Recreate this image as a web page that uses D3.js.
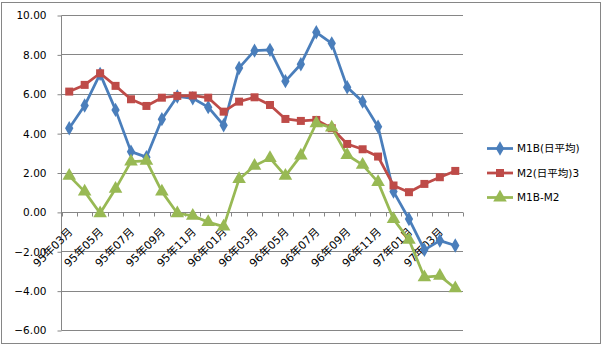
<!DOCTYPE html>
<html>
<head>
<meta charset="utf-8">
<script src="https://cdn.jsdelivr.net/npm/d3@7"></script>
<style>
  html, body { margin: 0; padding: 0; background: #fff; }
  svg { display: block; }
  text { font-family: "DejaVu Sans", "Noto Sans CJK JP", sans-serif; fill: #000; }
</style>
</head>
<body>
<svg id="chart" width="605" height="347"></svg>
<script>
// Monthly categories, 95年03月 .. 97年04月
const months = [
  "95年03月","95年04月","95年05月","95年06月","95年07月","95年08月","95年09月","95年10月",
  "95年11月","95年12月","96年01月","96年02月","96年03月","96年04月","96年05月","96年06月",
  "96年07月","96年08月","96年09月","96年10月","96年11月","96年12月","97年01月","97年02月",
  "97年03月","97年04月"
];
const m1b = [4.25, 5.40, 7.01, 5.18, 3.06, 2.78, 4.71, 5.86, 5.77, 5.32, 4.40, 7.31, 8.19,
             8.23, 6.64, 7.50, 9.12, 8.56, 6.33, 5.60, 4.32, 1.03, -0.36, -1.93, -1.46, -1.71];
const m2  = [6.11, 6.45, 7.04, 6.40, 5.72, 5.38, 5.80, 5.89, 5.91, 5.80, 5.09, 5.60, 5.82,
             5.43, 4.72, 4.62, 4.67, 4.25, 3.45, 3.18, 2.81, 1.34, 1.00, 1.42, 1.76, 2.08];
const diff = [1.83, 1.03, -0.07, 1.17, 2.55, 2.59, 1.03, -0.07, -0.20, -0.52, -0.75, 1.66, 2.34,
              2.73, 1.83, 2.86, 4.50, 4.28, 2.89, 2.39, 1.51, -0.37, -1.42, -3.32, -3.25, -3.88];
const yTicks = [-6, -4, -2, 0, 2, 4, 6, 8, 10];
const seriesNames = ["M1B(日平均)", "M2(日平均)3", "M1B-M2"];
const seriesColors = ["#4A7EBB", "#BE4B48", "#98B954"];
const seriesShapes = [d3.symbolDiamond, d3.symbolSquare, d3.symbolTriangle];
const seriesSizes = [60, 64, 80];

const svg = d3.select("#chart");

// chart area border
svg.append("rect")
  .attr("x", 1.5).attr("y", 2.5).attr("width", 599).attr("height", 341)
  .attr("fill", "#fff").attr("stroke", "#868686").attr("stroke-width", 1);

const plot = { left: 61.5, right: 463, top: 15, bottom: 330 };

const x = d3.scaleBand().domain(months).range([plot.left, plot.right]).padding(0);
const y = d3.scaleLinear().domain([-6, 10]).range([plot.bottom, plot.top]);
const cx = d => x(d) + x.bandwidth() / 2;

// horizontal gridlines
svg.append("g").selectAll("line").data(yTicks).join("line")
  .attr("x1", plot.left).attr("x2", plot.right)
  .attr("y1", d => Math.round(y(d)) + 0.5).attr("y2", d => Math.round(y(d)) + 0.5)
  .attr("stroke", "#868686").attr("stroke-width", 1);

// y axis
const yAxis = d3.axisLeft(y).tickValues(yTicks).tickFormat(d3.format(".2f")).tickSize(4).tickPadding(11);
const gy = svg.append("g").attr("transform", `translate(${plot.left},0.5)`).call(yAxis);
gy.select(".domain").attr("stroke", "#868686").attr("d", `M0,${plot.top}V${plot.bottom}`);
gy.selectAll(".tick line").attr("stroke", "#868686");
gy.selectAll(".tick text").attr("font-size", 10.5).attr("font-family", "DejaVu Sans, sans-serif").attr("fill", "#000");

// x axis on the zero line, ticks at category boundaries
const y0 = Math.round(y(0)) + 0.5;
const gx = svg.append("g");
gx.append("line").attr("x1", plot.left).attr("x2", plot.right)
  .attr("y1", y0).attr("y2", y0).attr("stroke", "#868686");
const bounds = months.map(m => x(m)).concat([plot.right]);
gx.selectAll("line.tk").data(bounds).join("line").attr("class", "tk")
  .attr("x1", d => Math.round(d) + 0.5).attr("x2", d => Math.round(d) + 0.5)
  .attr("y1", y0).attr("y2", y0 + 4).attr("stroke", "#868686");
gx.selectAll("text").data(months.filter((m, i) => i % 2 === 0)).join("text")
  .attr("transform", d => `translate(${cx(d) + 4},${y0 + 20}) rotate(-45)`)
  .attr("text-anchor", "end")
  .attr("font-size", 11)
  .text(d => d);

// series lines and markers
const allSeries = [m1b, m2, diff];
const line = d3.line().x((d, i) => cx(months[i])).y(d => y(d));

allSeries.forEach((vals, s) => {
  svg.append("path").datum(vals)
    .attr("d", line).attr("fill", "none")
    .attr("stroke", seriesColors[s]).attr("stroke-width", 2.75)
    .attr("stroke-linejoin", "round");
});
allSeries.forEach((vals, s) => {
  const sym = d3.symbol().type(seriesShapes[s]).size(seriesSizes[s]);
  svg.append("g").selectAll("path").data(vals).join("path")
    .attr("d", sym)
    .attr("transform", (d, i) => `translate(${cx(months[i])},${y(d)})`)
    .attr("fill", seriesColors[s]);
});

// legend
const legendY = [148.5, 173, 197.5];
const lg = svg.append("g");
seriesNames.forEach((name, s) => {
  lg.append("line").attr("x1", 487).attr("x2", 513)
    .attr("y1", legendY[s]).attr("y2", legendY[s])
    .attr("stroke", seriesColors[s]).attr("stroke-width", 2.75);
  lg.append("path").attr("d", d3.symbol().type(seriesShapes[s]).size(seriesSizes[s])())
    .attr("transform", `translate(500,${legendY[s]})`).attr("fill", seriesColors[s]);
  lg.append("text").attr("x", 517).attr("y", legendY[s]).attr("dy", "0.35em")
    .attr("font-size", 10.5).text(name);
});
</script>
</body>
</html>
